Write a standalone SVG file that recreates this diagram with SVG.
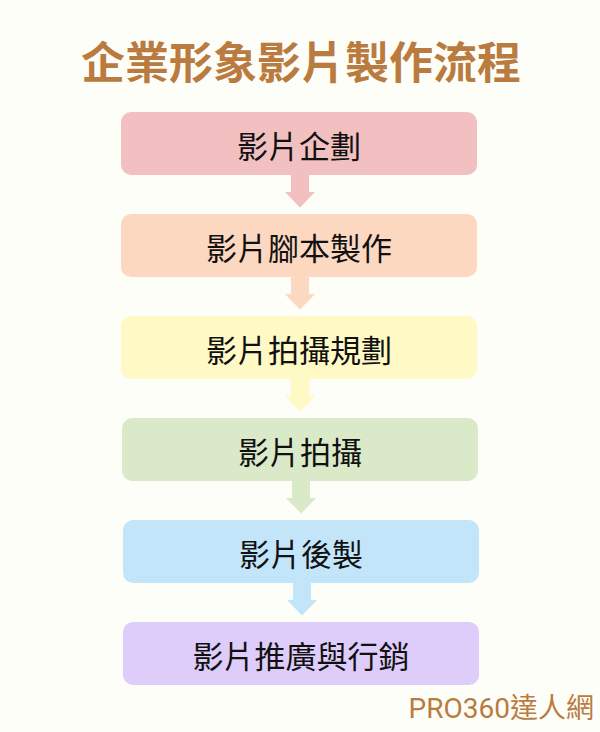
<svg xmlns="http://www.w3.org/2000/svg" width="600" height="732" viewBox="0 0 600 732">
<style>
.t{font-family:"Noto Sans CJK TC","Noto Sans CJK SC",sans-serif;font-size:31px;fill:#111;text-anchor:middle;dominant-baseline:central}
.title{font-family:"Noto Sans CJK TC","Noto Sans CJK SC",sans-serif;font-size:44px;font-weight:bold;fill:#BA7B40;text-anchor:middle}
.foot{font-family:Roboto,"Noto Sans CJK TC",sans-serif;font-size:28px;fill:#BA7B40;text-anchor:end}
</style>
<rect width="600" height="732" fill="#FEFEF8"/>
<text class="title" x="301" y="79">企業形象影片製作流程</text>
<g id="connectors">
<path d="M291 175H309V192H315L300 207.5L285 192H291Z" fill="#F2C0C0"/>
<path d="M291 277H309V294H315L300 309.5L285 294H291Z" fill="#FDD8C0"/>
<path d="M291 379H309V396H315L300 411.5L285 396H291Z" fill="#FFFAC5"/>
<path d="M292 481H310V498H316L301 513.5L286 498H292Z" fill="#DAEAC8"/>
<path d="M293 583H311V600H317L302 615.5L287 600H293Z" fill="#C3E5FA"/>
</g>
<g id="n1"><rect x="121" y="112" width="356" height="63" rx="10" fill="#F2C0C0"/><text class="t" x="299" y="144">影片企劃</text></g>
<g id="n2"><rect x="121" y="214" width="356" height="63" rx="10" fill="#FDD8C0"/><text class="t" x="299" y="246">影片腳本製作</text></g>
<g id="n3"><rect x="121" y="316" width="356" height="63" rx="10" fill="#FFFAC5"/><text class="t" x="299" y="348">影片拍攝規劃</text></g>
<g id="n4"><rect x="122" y="418" width="356" height="63" rx="10" fill="#DAEAC8"/><text class="t" x="300" y="450">影片拍攝</text></g>
<g id="n5"><rect x="123" y="520" width="356" height="63" rx="10" fill="#C3E5FA"/><text class="t" x="301" y="552">影片後製</text></g>
<g id="n6"><rect x="123" y="622" width="356" height="63" rx="10" fill="#DECCFA"/><text class="t" x="301" y="654">影片推廣與行銷</text></g>
<text class="foot" x="594" y="718">PRO360達人網</text>
</svg>
